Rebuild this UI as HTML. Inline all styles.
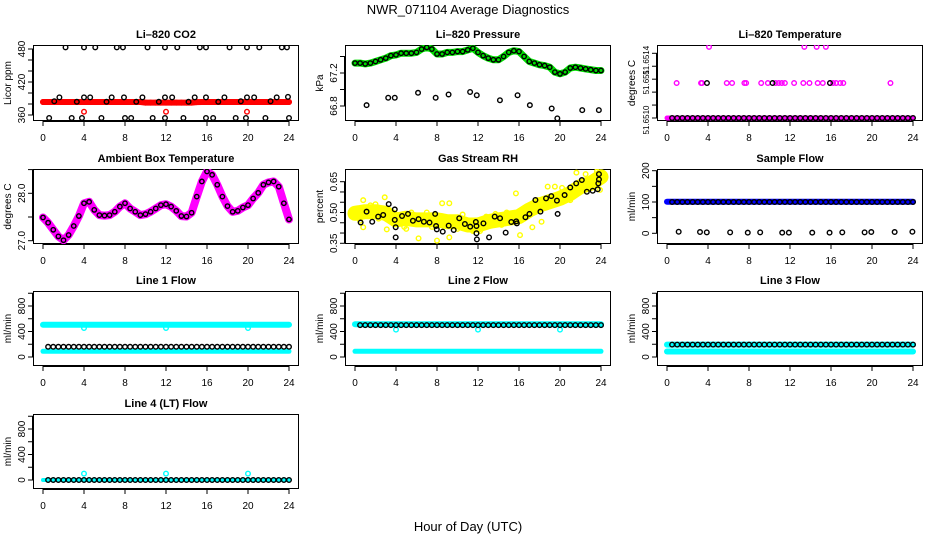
<!DOCTYPE html>
<html><head><meta charset="utf-8"><title>NWR_071104 Average Diagnostics</title>
<style>
html,body{margin:0;padding:0;background:#fff;}
svg{display:block;font-family:"Liberation Sans",Arial,sans-serif;}
</style></head>
<body>
<svg id="chart" width="936" height="540" viewBox="0 0 936 540" xmlns="http://www.w3.org/2000/svg">
<rect x="0" y="0" width="936" height="540" fill="#fff"/>
<text x="468" y="14" text-anchor="middle" font-size="13">NWR_071104  Average Diagnostics</text>
<text x="468" y="531" text-anchor="middle" font-size="13">Hour of Day (UTC)</text>
</svg>
<script>
// ---- categories (hours) ----
const H49 = [0,0.5,1,1.5,2,2.5,3,3.5,4,4.5,5,5.5,6,6.5,7,7.5,8,8.5,9,9.5,10,10.5,11,11.5,12,12.5,13,13.5,14,14.5,15,15.5,16,16.5,17,17.5,18,18.5,19,19.5,20,20.5,21,21.5,22,22.5,23,23.5,24];
const H48 = [0.5,1,1.5,2,2.5,3,3.5,4,4.5,5,5.5,6,6.5,7,7.5,8,8.5,9,9.5,10,10.5,11,11.5,12,12.5,13,13.5,14,14.5,15,15.5,16,16.5,17,17.5,18,18.5,19,19.5,20,20.5,21,21.5,22,22.5,23,23.5,24];
const H13 = [0,2,4,6,8,10,12,14,16,18,20,22,24];
const xTicks = [0,4,8,12,16,20,24];

// ---- Li-820 CO2 ----
const co2BandV = [383.6,383.6,383.6,383.6,383.6,383.6,383.6,383.6,383.6,383.6,383.6,383.6,383.6,383.6,383.6,383.6,383.6,383.6,383.6,383.6,382.6,382.5,382.5,382.5,382.5,382.5,382.5,382.5,382.5,382.6,383.4,383.6,383.6,383.6,383.6,383.6,383.6,383.6,383.6,383.6,383.6,383.6,383.6,383.6,383.6,383.6,383.6,383.6,383.6];
const co2RedOutH = [4.0,12.0,19.9];
const co2RedOutV = [366,366,366];
const co2BlackH = [2.2,4.0,5.1,7.2,7.8,10.2,11.9,13.1,15.3,15.9,18.2,19.9,21.1,23.3,23.8, 1.6,4.0,4.6,6.7,7.9,9.7,11.9,12.6,14.8,15.9,17.7,19.9,20.6,22.8,23.9, 1.1,3.3,6.2,9.1,11.3,14.2,17.1,19.3,22.2, 0.6,2.8,3.8,5.7,8.0,8.6,10.7,11.9,13.7,15.9,16.6,18.8,19.8,21.7,24.0];
const co2BlackV = [483,483,483,483,483,483,483,483,483,483,483,483,483,483,483, 392,392,392,392,392,392,392,392,392,392,392,392,392,392,393, 385,384,384,384,384,384,384,385,385, 354.5,354.5,354.5,354.5,354.5,354.5,354.5,354.5,354.5,354.5,354.5,354.5,354.5,354.5,354.5];

// ---- Li-820 Pressure ----
const presBandV = [67.32,67.32,67.31,67.32,67.34,67.36,67.38,67.41,67.42,67.44,67.44,67.44,67.45,67.49,67.51,67.49,67.43,67.43,67.45,67.45,67.46,67.46,67.48,67.50,67.45,67.41,67.38,67.36,67.36,67.40,67.45,67.47,67.46,67.40,67.34,67.32,67.30,67.29,67.27,67.21,67.19,67.21,67.26,67.27,67.26,67.25,67.24,67.23,67.23];
const presLowH = [1.13,3.24,3.88,6.15,7.87,9.13,11.23,11.88,14.14,15.86,17.06,19.19,19.74,22.17,23.79];
const presLowV = [66.81,66.90,66.90,66.96,66.90,66.94,66.97,66.93,66.87,66.93,66.81,66.77,66.65,66.75,66.75];

// ---- Li-820 Temperature ----
const ltBandV = [51.6510,51.6510,51.6510,51.6510,51.6510,51.6510,51.6510,51.6510,51.6510,51.6510,51.6510,51.6510,51.6510];
const ltMidH = [0.94,3.32,3.42,5.83,6.35,7.55,7.72,9.19,9.84,10.6,10.9,11.2,11.5,12.4,13.3,13.9,14.7,15.2,15.9,16.2,16.5,16.9,17.2,21.8];
const ltMidV = [51.65127,51.65127,51.65127,51.65127,51.65127,51.65127,51.65127,51.65127,51.65127,51.65127,51.65127,51.65127,51.65127,51.65127,51.65127,51.65127,51.65127,51.65127,51.65127,51.65127,51.65127,51.65127,51.65127,51.65127];
const ltTopH = [4.1,13.4,14.6,15.5];
const ltTopV = [51.65155,51.65155,51.65155,51.65155];
const ltBlackV = [51.6510,51.6510,51.6510,51.6510,51.6510,51.6510,51.6510,51.6510,51.6510,51.6510,51.6510,51.6510,51.6510,51.6510,51.6510,51.6510,51.6510,51.6510,51.6510,51.6510,51.6510,51.6510,51.6510,51.6510,51.6510,51.6510,51.6510,51.6510,51.6510,51.6510,51.6510,51.6510,51.6510,51.6510,51.6510,51.6510,51.6510,51.6510,51.6510,51.6510,51.6510,51.6510,51.6510,51.6510,51.6510,51.6510,51.6510,51.6510];
const ltBlackMidH = [3.9,10.3,15.9];
const ltBlackMidV = [51.65127,51.65127,51.65127];

// ---- Ambient Box Temperature ----
const ambBandV = [27.49,27.38,27.23,27.09,27.01,27.12,27.31,27.52,27.79,27.82,27.65,27.54,27.53,27.54,27.61,27.72,27.79,27.68,27.61,27.54,27.56,27.61,27.68,27.75,27.77,27.72,27.63,27.52,27.51,27.59,27.93,28.25,28.46,28.39,28.18,27.93,27.73,27.61,27.63,27.70,27.75,27.89,28.01,28.18,28.23,28.25,28.14,27.79,27.45];

// ---- Gas Stream RH ----
const rhBandV = [0.496,0.500,0.504,0.504,0.504,0.500,0.496,0.480,0.464,0.468,0.472,0.468,0.464,0.464,0.464,0.464,0.464,0.460,0.455,0.455,0.455,0.447,0.439,0.439,0.439,0.447,0.455,0.460,0.464,0.468,0.472,0.476,0.480,0.496,0.512,0.525,0.537,0.545,0.553,0.561,0.569,0.581,0.593,0.610,0.626,0.634,0.642,0.658,0.674];
const rhYelH = [0.8,2.9,8.5,9.2,15.7,6.2,8.0,9.2,16.1,17.3,21.6,22.5,18.8,19.5,13.7,3.1,0.8,18.2,0.2,1.5,2.3,4.8,5.5,7.0,10.5,11.5,12.8,14.3,20.2,23.6,23.9,0.5,2.0,5.0,7.5,10.0,12.2,14.8,17.8,21.0];
const rhYelV = [0.560,0.574,0.545,0.545,0.593,0.374,0.363,0.379,0.390,0.428,0.694,0.687,0.626,0.626,0.493,0.418,0.428,0.455,0.520,0.535,0.470,0.430,0.500,0.500,0.490,0.410,0.480,0.440,0.620,0.700,0.610,0.460,0.540,0.420,0.430,0.420,0.410,0.500,0.560,0.560];
const rhBlackH = [0.55,1.13,1.68,2.26,2.75,3.29,3.88,3.88,3.97,3.97,4.59,5.17,5.65,6.20,6.72,7.27,7.82,7.91,7.98,8.56,9.14,9.63,10.17,10.72,11.24,11.79,11.85,11.85,11.89,12.53,13.08,13.63,14.15,14.70,15.25,15.73,15.79,16.63,17.02,17.60,18.09,18.64,19.15,19.70,19.77,20.45,21.00,21.58,22.13,22.62,23.19,23.68,23.74,23.80,23.80];
const rhBlackV = [0.451,0.504,0.455,0.480,0.488,0.541,0.515,0.464,0.428,0.379,0.483,0.493,0.460,0.468,0.455,0.451,0.493,0.434,0.418,0.407,0.436,0.415,0.472,0.444,0.431,0.454,0.434,0.399,0.369,0.447,0.379,0.480,0.472,0.402,0.454,0.457,0.447,0.477,0.493,0.561,0.504,0.569,0.580,0.558,0.493,0.585,0.622,0.642,0.658,0.601,0.606,0.613,0.642,0.661,0.687];

// ---- Sample Flow ----
const sfBandV = [101,101,101,101,101,101,101,101,101,101,101,101,101];
const sfBlackV = [100,100,100,100,100,100,100,100,100,100,100,100,100,100,100,100,100,100,100,100,100,100,100,100,100,100,100,100,100,100,100,100,100,100,100,100,100,100,100,100,100,100,100,100,100,100,100,100];
const sfLowH = [1.14,3.22,3.88,6.16,7.88,9.09,11.24,11.89,14.17,15.86,17.10,19.28,19.93,22.21,23.94];
const sfLowV = [5,4,3,3,2,3,2,2,2,2,3,3,4,4,5];

// ---- Line flows ----
const l1TopV = [507,507,505,505,505,505,505,505,505,505,505,505,507];
const l1LowV = [89,89,89,89,89,89,89,89,89,89,89,89,89];
const l1BlackV = [160,160,160,160,160,160,160,160,160,160,160,160,160,160,160,160,160,160,160,160,160,160,160,160,160,160,160,160,160,160,160,160,160,160,160,160,160,160,160,160,160,160,160,160,160,160,160,160];
const l2TopV = [515,515,515,515,515,515,515,515,515,515,515,515,515];
const l2LowV = [90,90,90,90,90,90,90,90,90,90,90,90,90];
const l2BlackV = [500,500,500,500,500,500,500,500,500,500,500,500,500,500,500,500,500,500,500,500,500,500,500,500,500,500,500,500,500,500,500,500,500,500,500,500,500,500,500,500,500,500,500,500,500,500,500,500];
const l3TopV = [195,195,195,195,195,195,195,195,195,195,195,195,195];
const l3LowV = [87,87,87,87,87,87,87,87,87,87,87,87,87];
const l3BlackV = [195,195,195,195,195,195,195,195,195,195,195,195,195,195,195,195,195,195,195,195,195,195,195,195,195,195,195,195,195,195,195,195,195,195,195,195,195,195,195,195,195,195,195,195,195,195,195,195];
const l4BandV = [0,0,0,0,0,0,0,0,0,0,0,0,0];
const l4BlackV = [0,0,0,0,0,0,0,0,0,0,0,0,0,0,0,0,0,0,0,0,0,0,0,0,0,0,0,0,0,0,0,0,0,0,0,0,0,0,0,0,0,0,0,0,0,0,0,0];
const outH = [4,12,20];
const l1OutV = [455,455,455];
const l2OutV = [429,429,429];
const l4OutV = [100,100,100];

const flowTicks = [0,200,400,600,800,1000];
const flowLabels = ['0','','400','','800',''];

const NS = 'http://www.w3.org/2000/svg';
const svg = document.getElementById('chart');
const ROWS = [[45,121],[169,244],[291,366],[414,489]];

function mk(tag, attrs, parent) {
  const e = document.createElementNS(NS, tag);
  for (const k in attrs) e.setAttribute(k, attrs[k]);
  (parent || svg).appendChild(e);
  return e;
}

function panel(cfg) {
  const x0 = 33 + 312 * cfg.col, x1 = x0 + 266;
  const y0 = ROWS[cfg.row][0], y1 = ROWS[cfg.row][1];
  const sx = h => x0 + 10 + h * 10.25;
  const k = (cfg.p1 - cfg.p0) / (cfg.v1 - cfg.v0);
  const sy = v => cfg.p0 + (v - cfg.v0) * k;
  const g = mk('g', {});
  
  
  const clip = mk('clipPath', {id: 'clip-' + cfg.name}, g);
  mk('rect', {x: x0, y: y0, width: x1 - x0, height: y1 - y0}, clip);
  const t = mk('text', {x: (x0 + x1) / 2, y: y0 - 7, 'text-anchor': 'middle', 'font-size': 11, 'font-weight': 'bold'}, g);
  t.textContent = cfg.title;
  
  
  const yl = mk('text', {x: 0, y: 0, 'text-anchor': 'middle', 'font-size': 10, transform: 'translate(' + (x0 - 22) + ',' + ((y0 + y1) / 2) + ') rotate(-90)'}, g);
  yl.textContent = cfg.ylab;
  
  
  // x axis
  const xa = mk('g', {}, g);
  
  
  mk('line', {x1: sx(0), x2: sx(24), y1: y1 + 0.5, y2: y1 + 0.5, stroke: '#000'}, xa);
  xTicks.forEach(h => {
    mk('line', {x1: sx(h), x2: sx(h), y1: y1, y2: y1 + 5, stroke: '#000'}, xa);
    const tl = mk('text', {x: sx(h), y: y1 + 20, 'text-anchor': 'middle', 'font-size': 10}, xa);
    tl.textContent = String(h);
  });
  // y axis
  const ya = mk('g', {}, g);
  
  
  const tk = cfg.ticks;
  mk('line', {x1: x0 - 0.5, x2: x0 - 0.5, y1: sy(tk[0]), y2: sy(tk[tk.length - 1]), stroke: '#000'}, ya);
  tk.forEach((v, i) => {
    const y = sy(v);
    mk('line', {x1: x0 - 5, x2: x0, y1: y, y2: y, stroke: '#000'}, ya);
    if (cfg.labels[i]) {
      const dy = cfg.labelDy ? cfg.labelDy[i] : 0;
      const tl = mk('text', {x: 0, y: 0, 'text-anchor': 'middle', 'font-size': cfg.labelSize || 10, transform: 'translate(' + (x0 - 8) + ',' + (y + dy) + ') rotate(-90)'}, ya);
      tl.textContent = cfg.labels[i];
    }
  });
  // box
  const box = mk('rect', {x: x0 + 0.5, y: y0 + 0.5, width: x1 - x0 - 1, height: y1 - y0 - 1, fill: 'none', stroke: '#000'}, g);
  
  
  const pg = mk('g', {'clip-path': 'url(#clip-' + cfg.name + ')'}, g);
  cfg.series.forEach(s => {
    const sg = mk('g', {}, pg);
    
    
    if (s.band) {
      const pts = s.h.map((h, i) => sx(h).toFixed(1) + ',' + sy(s.v[i]).toFixed(1)).join(' ');
      mk('polyline', {points: pts, fill: 'none', stroke: s.color, 'stroke-width': s.band, 'stroke-linejoin': 'round', 'stroke-linecap': 'round'}, sg);
    }
    if (s.pts !== false) {
      s.h.forEach((h, i) => {
        const c = mk('circle', {cx: sx(h), cy: sy(s.v[i]), r: s.r || 2.3, fill: 'none', stroke: s.color, 'stroke-width': s.sw || 1.4}, sg);
        
        
      });
    }
  });
}

const BLACK = '#000', RED = '#ff0000', GREEN = '#00dd00', MAG = '#ff00ff', YEL = '#ffff00', BLUE = '#0000ff', CYAN = '#00ffff';

panel({name: 'co2', col: 0, row: 0, title: 'Li\u2013820 CO2', ylab: 'Licor ppm', v0: 360, p0: 115, v1: 480, p1: 49,
  ticks: [360,380,400,420,440,460,480], labels: ['360','','','420','','','480'],
  series: [
    {id: 'red-band', h: H49, v: co2BandV, color: RED, band: 6},
    {id: 'red-outliers', h: co2RedOutH, v: co2RedOutV, color: RED},
    {id: 'black-points', h: co2BlackH, v: co2BlackV, color: BLACK}
  ]});

panel({name: 'pressure', col: 1, row: 0, title: 'Li\u2013820 Pressure', ylab: 'kPa', v0: 66.8, p0: 106, v1: 67.2, p1: 73,
  ticks: [66.8,67.0,67.2,67.4], labels: ['66.8','','67.2',''],
  series: [
    {id: 'green-band', h: H49, v: presBandV, color: GREEN, band: 7},
    {id: 'black-band-points', h: H49, v: presBandV, color: BLACK, r: 2.2},
    {id: 'black-low-points', h: presLowH, v: presLowV, color: BLACK}
  ]});

panel({name: 'li820-temp', col: 2, row: 0, title: 'Li\u2013820 Temperature', ylab: 'degrees C', v0: 51.6510, p0: 118, v1: 51.6515, p1: 53.3,
  ticks: [51.6510,51.6511,51.6512,51.6513,51.6514,51.6515], labels: ['51.6510','','','51.651','','51.6514'],
  labelDy: [2,0,0,3,0,7], labelSize: 8,
  series: [
    {id: 'magenta-band', h: H13, v: ltBandV, color: MAG, band: 5, pts: false},
    {id: 'magenta-mid', h: ltMidH, v: ltMidV, color: MAG},
    {id: 'magenta-top', h: ltTopH, v: ltTopV, color: MAG},
    {id: 'black-points', h: H48, v: ltBlackV, color: BLACK},
    {id: 'black-mid', h: ltBlackMidH, v: ltBlackMidV, color: BLACK}
  ]});

panel({name: 'ambient-temp', col: 0, row: 1, title: 'Ambient Box Temperature', ylab: 'degrees C', v0: 27.0, p0: 240.7, v1: 28.0, p1: 193.3,
  ticks: [27.0,27.5,28.0,28.5], labels: ['27.0','','28.0',''],
  series: [
    {id: 'magenta-band', h: H49, v: ambBandV, color: MAG, band: 8},
    {id: 'black-points', h: H49, v: ambBandV, color: BLACK, r: 2.2}
  ]});

panel({name: 'gas-rh', col: 1, row: 1, title: 'Gas Stream RH', ylab: 'percent', v0: 0.35, p0: 243.3, v1: 0.65, p1: 181.7,
  ticks: [0.35,0.40,0.45,0.50,0.55,0.60,0.65], labels: ['0.35','','','0.50','','','0.65'],
  series: [
    {id: 'yellow-band', h: H49, v: rhBandV, color: YEL, band: 15},
    {id: 'yellow-scatter', h: rhYelH, v: rhYelV, color: YEL},
    {id: 'black-points', h: rhBlackH, v: rhBlackV, color: BLACK}
  ]});

panel({name: 'sample-flow', col: 2, row: 1, title: 'Sample Flow', ylab: 'ml/min', v0: 0, p0: 233.3, v1: 200, p1: 170.7,
  ticks: [0,50,100,150,200], labels: ['0','','100','','200'],
  series: [
    {id: 'blue-band', h: H13, v: sfBandV, color: BLUE, band: 6, pts: false},
    {id: 'black-points', h: H48, v: sfBlackV, color: BLACK},
    {id: 'black-low', h: sfLowH, v: sfLowV, color: BLACK}
  ]});

panel({name: 'line1-flow', col: 0, row: 2, title: 'Line 1 Flow', ylab: 'ml/min', v0: 0, p0: 357, v1: 800, p1: 306,
  ticks: flowTicks, labels: flowLabels,
  series: [
    {id: 'cyan-top', h: H13, v: l1TopV, color: CYAN, band: 6, pts: false},
    {id: 'cyan-low', h: H13, v: l1LowV, color: CYAN, band: 5, pts: false},
    {id: 'cyan-outliers', h: outH, v: l1OutV, color: CYAN},
    {id: 'black-points', h: H48, v: l1BlackV, color: BLACK}
  ]});

panel({name: 'line2-flow', col: 1, row: 2, title: 'Line 2 Flow', ylab: 'ml/min', v0: 0, p0: 357, v1: 800, p1: 306,
  ticks: flowTicks, labels: flowLabels,
  series: [
    {id: 'cyan-top', h: H13, v: l2TopV, color: CYAN, band: 6, pts: false},
    {id: 'cyan-low', h: H13, v: l2LowV, color: CYAN, band: 5, pts: false},
    {id: 'cyan-outliers', h: outH, v: l2OutV, color: CYAN},
    {id: 'black-points', h: H48, v: l2BlackV, color: BLACK}
  ]});

panel({name: 'line3-flow', col: 2, row: 2, title: 'Line 3 Flow', ylab: 'ml/min', v0: 0, p0: 357, v1: 800, p1: 306,
  ticks: flowTicks, labels: flowLabels,
  series: [
    {id: 'cyan-top', h: H13, v: l3TopV, color: CYAN, band: 6, pts: false},
    {id: 'cyan-low', h: H13, v: l3LowV, color: CYAN, band: 6, pts: false},
    {id: 'black-points', h: H48, v: l3BlackV, color: BLACK}
  ]});

panel({name: 'line4-flow', col: 0, row: 3, title: 'Line 4 (LT) Flow', ylab: 'ml/min', v0: 0, p0: 480, v1: 800, p1: 429,
  ticks: flowTicks, labels: flowLabels,
  series: [
    {id: 'cyan-band', h: H13, v: l4BandV, color: CYAN, band: 4, pts: false},
    {id: 'cyan-outliers', h: outH, v: l4OutV, color: CYAN},
    {id: 'black-points', h: H48, v: l4BlackV, color: BLACK}
  ]});
</script>
</body></html>
